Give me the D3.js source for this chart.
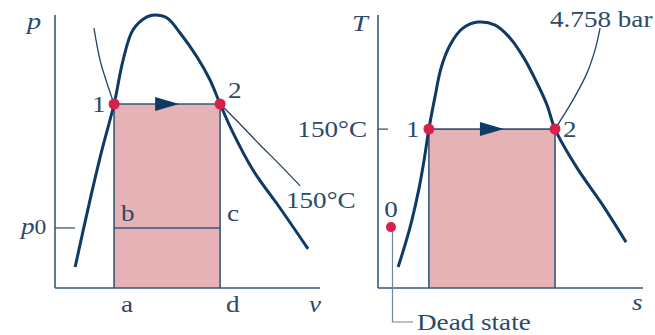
<!DOCTYPE html>
<html>
<head>
<meta charset="utf-8">
<script src="https://cdn.jsdelivr.net/npm/d3@7"></script>
<style>
  html, body { margin: 0; padding: 0; background: #ffffff; }
  svg { display: block; }
  text { font-family: "Liberation Serif", "Times New Roman", serif; fill: #2b4a68; }
</style>
</head>
<body>
<svg id="chart" width="655" height="335"></svg>
<script>
// p–v diagram: saturation dome (v, p) in relative units 0–100
const domePv = [
  [7.6, 7.7], [13.2, 32.2], [17.7, 50.5], [22.3, 67.4], [25.7, 83.5], [29.4, 94.5],
  [34.7, 99.3], [37.7, 100], [42.3, 98.9], [47.2, 93.4], [53.6, 84.6], [58.5, 76.2],
  [62.3, 67.4], [67.2, 56.8], [74.7, 43.2], [84.9, 29.3], [95.5, 14.3]
];
// 150°C isotherm: compressed-liquid branch and superheated branch
const isothermLiquid = [[14.7, 95.2], [17.0, 83.5], [19.6, 75.1], [22.3, 67.4]];
const isothermVapor = [[62.3, 67.4], [69.8, 60.1], [77.4, 52.4], [84.9, 45.1], [92.5, 37.4]];
const statesPv = [{ id: "1", v: 22.3, p: 67.4 }, { id: "2", v: 62.3, p: 67.4 }];
const p0 = 22.0;

// T–s diagram: saturation dome (s, T) in relative units 0–100
const domeTs = [
  [7.6, 7.7], [10.2, 15.8], [12.8, 24.9], [15.5, 36.6], [17.4, 46.9], [19.2, 58.2],
  [21.5, 70.0], [23.8, 80.6], [27.2, 89.0], [31.7, 94.9], [37.7, 97.4], [44.2, 96.3],
  [49.8, 91.6], [55.1, 84.2], [60.0, 75.1], [63.8, 67.0], [66.8, 58.2], [75.1, 44.0],
  [84.5, 30.8], [93.6, 16.8]
];
// 4.758 bar isobar in the superheated region
const isobar = [[66.8, 58.2], [73.6, 68.9], [78.9, 78.8], [81.9, 87.2], [83.8, 95.2]];
const statesTs = [{ id: "1", s: 19.2, T: 58.2 }, { id: "2", s: 66.8, T: 58.2 }];
const deadState = { id: "0", s: 4.9, T: 22.3 };

const labelIsotherm = "150°C";
const labelIsobar = "4.758 bar";
const labelDead = "Dead state";

const C = {
  dome: "#0e3a64",
  axis: "#35597a",
  thin: "#1f4468",
  fill: "#e7b2b6",
  dot: "#d9204c",
  leader: "#6f879c"
};

const svg = d3.select("#chart");

const xL = d3.scaleLinear().domain([0, 100]).range([55, 320]);
const yL = d3.scaleLinear().domain([0, 100]).range([288, 15]);
const xR = d3.scaleLinear().domain([0, 100]).range([378, 643]);
const yR = d3.scaleLinear().domain([0, 100]).range([288, 15]);

const smooth = d3.curveCatmullRom.alpha(0.5);

function drawPanel(g, xs, ys, states, key) {
  const [a, b] = states;
  // shaded area under process 1–2
  g.append("rect")
    .attr("x", xs(a[key[0]])).attr("y", ys(a[key[1]]))
    .attr("width", xs(b[key[0]]) - xs(a[key[0]]))
    .attr("height", ys(0) - ys(a[key[1]]))
    .attr("fill", C.fill);
  // vertical edges of the shaded area
  [a, b].forEach(st => {
    g.append("line")
      .attr("x1", xs(st[key[0]])).attr("x2", xs(st[key[0]]))
      .attr("y1", ys(st[key[1]])).attr("y2", ys(0))
      .attr("stroke", C.axis).attr("stroke-width", 1.6);
  });
  // axes
  g.append("line").attr("x1", xs(0)).attr("x2", xs(0)).attr("y1", ys(100)).attr("y2", ys(0))
    .attr("stroke", C.axis).attr("stroke-width", 1.6);
  g.append("line").attr("x1", xs(0)).attr("x2", xs(100)).attr("y1", ys(0)).attr("y2", ys(0))
    .attr("stroke", C.axis).attr("stroke-width", 1.6);
}

const gL = svg.append("g");
const gR = svg.append("g");

drawPanel(gL, xL, yL, statesPv, ["v", "p"]);
drawPanel(gR, xR, yR, statesTs, ["s", "T"]);

// p0 line b–c and tick
gL.append("line")
  .attr("x1", xL(statesPv[0].v)).attr("x2", xL(statesPv[1].v))
  .attr("y1", yL(p0)).attr("y2", yL(p0))
  .attr("stroke", C.axis).attr("stroke-width", 1.6);
gL.append("line")
  .attr("x1", xL(0)).attr("x2", xL(0) + 20)
  .attr("y1", yL(p0)).attr("y2", yL(p0))
  .attr("stroke", C.axis).attr("stroke-width", 1.3);

// 150°C tick on the T axis
gR.append("line")
  .attr("x1", xR(0)).attr("x2", xR(0) + 10)
  .attr("y1", yR(statesTs[0].T)).attr("y2", yR(statesTs[0].T))
  .attr("stroke", C.axis).attr("stroke-width", 1.3);

const lineL = d3.line().x(d => xL(d[0])).y(d => yL(d[1])).curve(smooth);
const lineR = d3.line().x(d => xR(d[0])).y(d => yR(d[1])).curve(smooth);

// isotherm and isobar
gL.append("path").attr("d", lineL(isothermLiquid))
  .attr("fill", "none").attr("stroke", C.thin).attr("stroke-width", 1.3);
gL.append("path").attr("d", lineL(isothermVapor))
  .attr("fill", "none").attr("stroke", C.thin).attr("stroke-width", 1.3);
gR.append("path").attr("d", lineR(isobar))
  .attr("fill", "none").attr("stroke", C.thin).attr("stroke-width", 1.3);

// saturation domes
gL.append("path").attr("d", lineL(domePv))
  .attr("fill", "none").attr("stroke", C.dome).attr("stroke-width", 3);
gR.append("path").attr("d", lineR(domeTs))
  .attr("fill", "none").attr("stroke", C.dome).attr("stroke-width", 3);

// process lines 1→2 with arrowheads and state points
function processLine(g, xs, ys, states, kx, ky) {
  const [a, b] = states;
  const y = ys(a[ky]);
  g.append("line").attr("x1", xs(a[kx])).attr("x2", xs(b[kx])).attr("y1", y).attr("y2", y)
    .attr("stroke", C.axis).attr("stroke-width", 1.6);
  const mid = (xs(a[kx]) + xs(b[kx])) / 2;
  g.append("path")
    .attr("d", `M${mid - 12},${y - 7}L${mid + 12},${y}L${mid - 12},${y + 7}Z`)
    .attr("fill", C.dome);
  g.selectAll(null).data(states).enter().append("circle")
    .attr("cx", d => xs(d[kx])).attr("cy", d => ys(d[ky])).attr("r", 5.5)
    .attr("fill", C.dot);
}
processLine(gL, xL, yL, statesPv, "v", "p");
processLine(gR, xR, yR, statesTs, "s", "T");

// dead state with leader
gR.append("polyline")
  .attr("points", [[xR(deadState.s) + 1.5, yR(deadState.T)], [xR(deadState.s) + 1.5, 322], [xR(deadState.s) + 22, 322]].map(p => p.join(",")).join(" "))
  .attr("fill", "none").attr("stroke", C.leader).attr("stroke-width", 1.2);
gR.append("circle")
  .attr("cx", xR(deadState.s)).attr("cy", yR(deadState.T)).attr("r", 5).attr("fill", C.dot);

// text: a wide serif face, stretched horizontally
const fs = 23, stretch = 1.18;
function txt(g, x, y, s, anchor, italic, size) {
  return g.append("text")
    .attr("transform", `translate(${x},${y}) scale(${stretch},1)`)
    .text(s)
    .attr("text-anchor", anchor || "start")
    .attr("font-size", size || fs)
    .attr("font-style", italic ? "italic" : "normal");
}

// left panel labels
txt(gL, 27, 29, "p", "start", true, 24);
txt(gL, 92, 112, statesPv[0].id);
txt(gL, 228, 98, statesPv[1].id);
txt(gL, 121, 221, "b");
txt(gL, 227, 221, "c");
txt(gL, 121, 312, "a");
txt(gL, 226, 312, "d");
txt(gL, 309, 312, "v", "start", true, 23);
txt(gL, 286, 208, labelIsotherm);
const p0Label = txt(gL, 21, yL(p0) + 6, "", "start", false, 23);
p0Label.append("tspan").attr("font-style", "italic").text("p");
p0Label.append("tspan").attr("font-size", 20).text("0");

// right panel labels
txt(gR, 352, 31, "T", "start", true, 24);
txt(gR, 367, yR(statesTs[0].T) + 8, labelIsotherm, "end");
txt(gR, 406, yR(statesTs[0].T) + 8, statesTs[0].id);
txt(gR, 563, yR(statesTs[1].T) + 8, statesTs[1].id);
txt(gR, 550, 27, labelIsobar);
txt(gR, xR(deadState.s), 217, deadState.id, "middle");
txt(gR, 632, 310, "s", "start", true, 23);
txt(gR, 417, 330, labelDead);
</script>
</body>
</html>
